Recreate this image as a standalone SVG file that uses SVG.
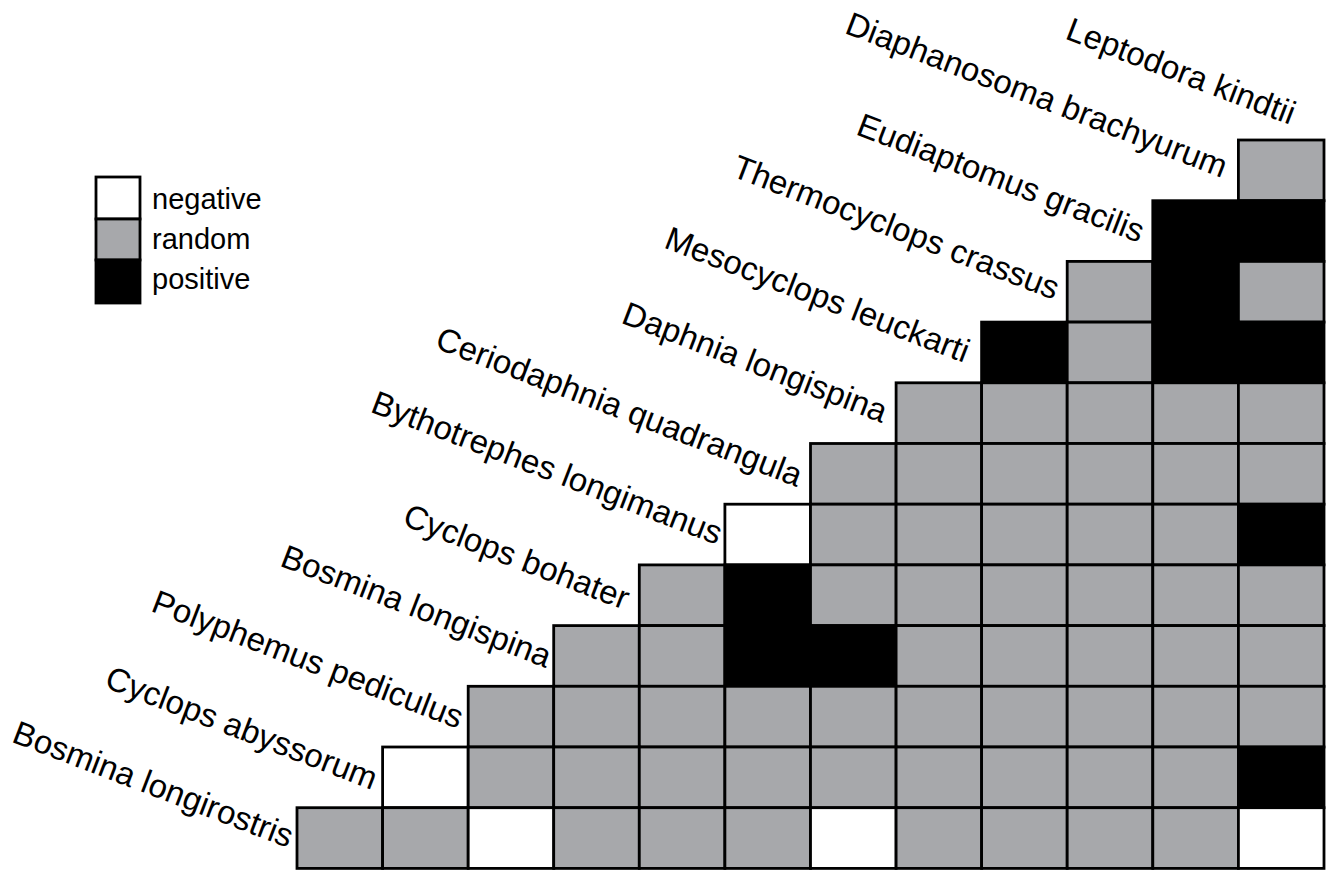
<svg xmlns="http://www.w3.org/2000/svg" width="1334" height="871" viewBox="0 0 1334 871">
<style>
.g{fill:#a7a8ab;stroke:#000;stroke-width:2.8}
.b{fill:#000;stroke:#000;stroke-width:2.8}
.w{fill:#fff;stroke:#000;stroke-width:2.8}
.lab{font-family:"Liberation Sans",Arial,sans-serif;font-size:33px;fill:#000;text-anchor:end}
.leg{font-family:"Liberation Sans",Arial,sans-serif;font-size:29px;fill:#000}
</style>
<rect width="1334" height="871" fill="#fff"/>
<g id="legend">
<rect class="w" x="96" y="177" width="44" height="42"/>
<rect class="g" x="96" y="219" width="44" height="41"/>
<rect class="b" x="96" y="260" width="44" height="43"/>
<text class="leg" x="152" y="209">negative</text>
<text class="leg" x="152" y="249">random</text>
<text class="leg" x="152" y="289">positive</text>
</g>
<g id="matrix">
<!-- row 0 -->
<rect class="g" x="1238.4" y="140" width="85.6" height="60.7"/>
<!-- row 1 -->
<rect class="b" x="1152.8" y="200.7" width="85.6" height="60.7"/>
<rect class="b" x="1238.4" y="200.7" width="85.6" height="60.7"/>
<!-- row 2 -->
<rect class="g" x="1067.2" y="261.4" width="85.6" height="60.7"/>
<rect class="b" x="1152.8" y="261.4" width="85.6" height="60.7"/>
<rect class="g" x="1238.4" y="261.4" width="85.6" height="60.7"/>
<!-- row 3 -->
<rect class="b" x="981.6" y="322.1" width="85.6" height="60.7"/>
<rect class="g" x="1067.2" y="322.1" width="85.6" height="60.7"/>
<rect class="b" x="1152.8" y="322.1" width="85.6" height="60.7"/>
<rect class="b" x="1238.4" y="322.1" width="85.6" height="60.7"/>
<!-- row 4 -->
<rect class="g" x="896.1" y="382.8" width="85.6" height="60.7"/>
<rect class="g" x="981.6" y="382.8" width="85.6" height="60.7"/>
<rect class="g" x="1067.2" y="382.8" width="85.6" height="60.7"/>
<rect class="g" x="1152.8" y="382.8" width="85.6" height="60.7"/>
<rect class="g" x="1238.4" y="382.8" width="85.6" height="60.7"/>
<!-- row 5 -->
<rect class="g" x="810.5" y="443.5" width="85.6" height="60.7"/>
<rect class="g" x="896.1" y="443.5" width="85.6" height="60.7"/>
<rect class="g" x="981.6" y="443.5" width="85.6" height="60.7"/>
<rect class="g" x="1067.2" y="443.5" width="85.6" height="60.7"/>
<rect class="g" x="1152.8" y="443.5" width="85.6" height="60.7"/>
<rect class="g" x="1238.4" y="443.5" width="85.6" height="60.7"/>
<!-- row 6 -->
<rect class="w" x="724.9" y="504.2" width="85.6" height="60.7"/>
<rect class="g" x="810.5" y="504.2" width="85.6" height="60.7"/>
<rect class="g" x="896.1" y="504.2" width="85.6" height="60.7"/>
<rect class="g" x="981.6" y="504.2" width="85.6" height="60.7"/>
<rect class="g" x="1067.2" y="504.2" width="85.6" height="60.7"/>
<rect class="g" x="1152.8" y="504.2" width="85.6" height="60.7"/>
<rect class="b" x="1238.4" y="504.2" width="85.6" height="60.7"/>
<!-- row 7 -->
<rect class="g" x="639.3" y="564.9" width="85.6" height="60.7"/>
<rect class="b" x="724.9" y="564.9" width="85.6" height="60.7"/>
<rect class="g" x="810.5" y="564.9" width="85.6" height="60.7"/>
<rect class="g" x="896.1" y="564.9" width="85.6" height="60.7"/>
<rect class="g" x="981.6" y="564.9" width="85.6" height="60.7"/>
<rect class="g" x="1067.2" y="564.9" width="85.6" height="60.7"/>
<rect class="g" x="1152.8" y="564.9" width="85.6" height="60.7"/>
<rect class="g" x="1238.4" y="564.9" width="85.6" height="60.7"/>
<!-- row 8 -->
<rect class="g" x="553.7" y="625.6" width="85.6" height="60.7"/>
<rect class="g" x="639.3" y="625.6" width="85.6" height="60.7"/>
<rect class="b" x="724.9" y="625.6" width="85.6" height="60.7"/>
<rect class="b" x="810.5" y="625.6" width="85.6" height="60.7"/>
<rect class="g" x="896.1" y="625.6" width="85.6" height="60.7"/>
<rect class="g" x="981.6" y="625.6" width="85.6" height="60.7"/>
<rect class="g" x="1067.2" y="625.6" width="85.6" height="60.7"/>
<rect class="g" x="1152.8" y="625.6" width="85.6" height="60.7"/>
<rect class="g" x="1238.4" y="625.6" width="85.6" height="60.7"/>
<!-- row 9 -->
<rect class="g" x="468.2" y="686.3" width="85.6" height="60.7"/>
<rect class="g" x="553.7" y="686.3" width="85.6" height="60.7"/>
<rect class="g" x="639.3" y="686.3" width="85.6" height="60.7"/>
<rect class="g" x="724.9" y="686.3" width="85.6" height="60.7"/>
<rect class="g" x="810.5" y="686.3" width="85.6" height="60.7"/>
<rect class="g" x="896.1" y="686.3" width="85.6" height="60.7"/>
<rect class="g" x="981.6" y="686.3" width="85.6" height="60.7"/>
<rect class="g" x="1067.2" y="686.3" width="85.6" height="60.7"/>
<rect class="g" x="1152.8" y="686.3" width="85.6" height="60.7"/>
<rect class="g" x="1238.4" y="686.3" width="85.6" height="60.7"/>
<!-- row 10 -->
<rect class="w" x="382.6" y="747" width="85.6" height="60.7"/>
<rect class="g" x="468.2" y="747" width="85.6" height="60.7"/>
<rect class="g" x="553.7" y="747" width="85.6" height="60.7"/>
<rect class="g" x="639.3" y="747" width="85.6" height="60.7"/>
<rect class="g" x="724.9" y="747" width="85.6" height="60.7"/>
<rect class="g" x="810.5" y="747" width="85.6" height="60.7"/>
<rect class="g" x="896.1" y="747" width="85.6" height="60.7"/>
<rect class="g" x="981.6" y="747" width="85.6" height="60.7"/>
<rect class="g" x="1067.2" y="747" width="85.6" height="60.7"/>
<rect class="g" x="1152.8" y="747" width="85.6" height="60.7"/>
<rect class="b" x="1238.4" y="747" width="85.6" height="60.7"/>
<!-- row 11 -->
<rect class="g" x="297" y="807.7" width="85.6" height="60.7"/>
<rect class="g" x="382.6" y="807.7" width="85.6" height="60.7"/>
<rect class="w" x="468.2" y="807.7" width="85.6" height="60.7"/>
<rect class="g" x="553.7" y="807.7" width="85.6" height="60.7"/>
<rect class="g" x="639.3" y="807.7" width="85.6" height="60.7"/>
<rect class="g" x="724.9" y="807.7" width="85.6" height="60.7"/>
<rect class="w" x="810.5" y="807.7" width="85.6" height="60.7"/>
<rect class="g" x="896.1" y="807.7" width="85.6" height="60.7"/>
<rect class="g" x="981.6" y="807.7" width="85.6" height="60.7"/>
<rect class="g" x="1067.2" y="807.7" width="85.6" height="60.7"/>
<rect class="g" x="1152.8" y="807.7" width="85.6" height="60.7"/>
<rect class="w" x="1238.4" y="807.7" width="85.6" height="60.7"/>
</g>
<g id="labels">
<text class="lab" transform="translate(288,848) rotate(21)">Bosmina longirostris</text>
<text class="lab" transform="translate(372,790) rotate(21)">Cyclops abyssorum</text>
<text class="lab" transform="translate(458,729) rotate(21)">Polyphemus pediculus</text>
<text class="lab" transform="translate(546,668) rotate(21)">Bosmina longispina</text>
<text class="lab" transform="translate(624,610) rotate(21)">Cyclops bohater</text>
<text class="lab" transform="translate(717,545) rotate(21)">Bythotrephes longimanus</text>
<text class="lab" transform="translate(797,487) rotate(21)">Ceriodaphnia quadrangula</text>
<text class="lab" transform="translate(882,423) rotate(21)">Daphnia longispina</text>
<text class="lab" transform="translate(964,363) rotate(21)">Mesocyclops leuckarti</text>
<text class="lab" transform="translate(1054,300) rotate(21)">Thermocyclops crassus</text>
<text class="lab" transform="translate(1139,243) rotate(21)">Eudiaptomus gracilis</text>
<text class="lab" transform="translate(1222,178) rotate(21)">Diaphanosoma brachyurum</text>
<text class="lab" transform="translate(1290,125) rotate(21)">Leptodora kindtii</text>
</g>
</svg>
